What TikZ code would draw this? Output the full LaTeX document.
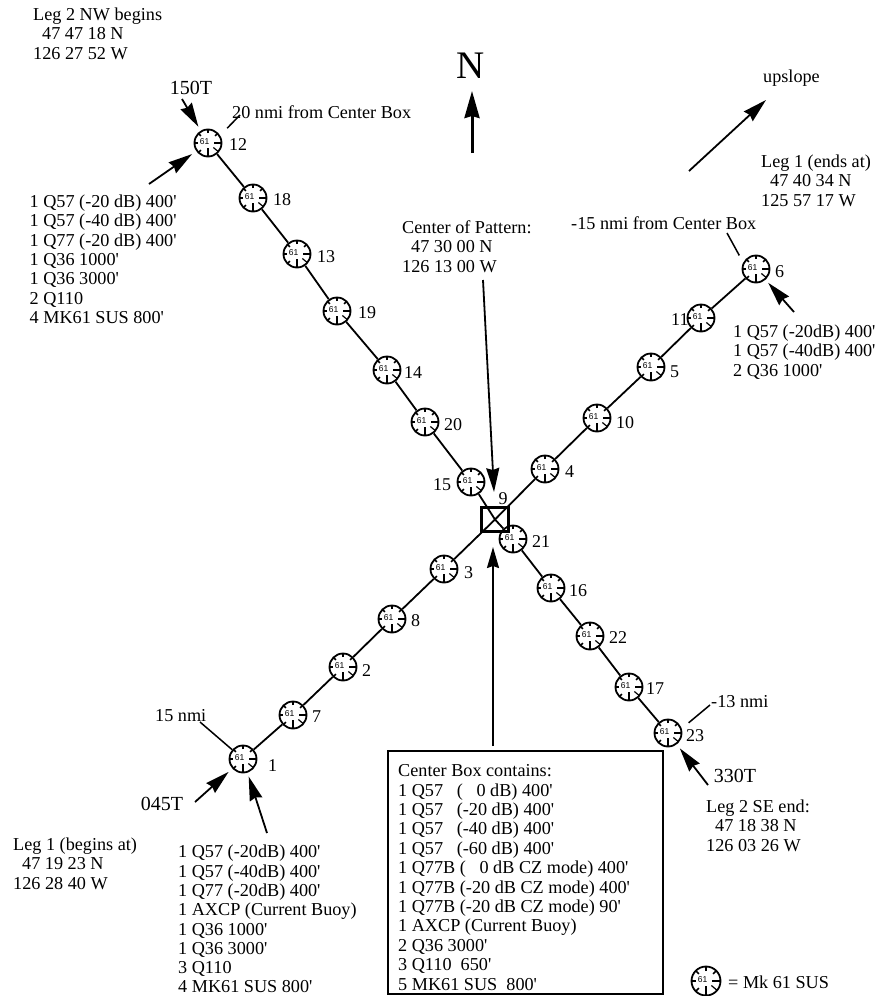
\documentclass[tikz,border=0pt]{standalone}
\usepackage{fontspec}
\setmainfont{Liberation Serif}[Ligatures=TeXOff]
\newfontfamily\buoyfont{Liberation Sans}
\usetikzlibrary{arrows.meta}
\newcommand{\buoytext}{\makebox[0pt]{\hspace{-7pt}\raisebox{2.5pt}{61}}}
\tikzset{
  x=1pt,y=-1pt,
  buoy/.style={circle,draw,fill=white,line width=1.8pt,minimum size=27pt,inner sep=0pt,
    font=\buoyfont\fontsize{8.5}{8.5}\selectfont,
    path picture={
      \foreach \a in {135,180,225,270,315}{
        \draw[line width=1.5pt] (path picture bounding box.center) ++(\a:10) -- ++(\a:5);
      }
      \draw[line width=1.5pt] (path picture bounding box.center) ++(90:5) -- ++(90:10);
      \draw[line width=1.5pt] (path picture bounding box.center) ++(0:6) -- ++(0:9);
      \draw[line width=1.2pt] (path picture bounding box.center) ++(40:7) -- ++(40:8);
    }},
  num/.style={anchor=west,inner sep=0pt,font=\fontsize{18}{20}\selectfont},
  txt/.style={anchor=north west,inner sep=0pt,align=left,font=\fontsize{18.2}{19.4}\selectfont},
  big/.style={anchor=center,inner sep=0pt,font=\fontsize{20}{22}\selectfont},
  leg/.style={line width=1.8pt},
  thin line/.style={line width=1.5pt},
  arrow/.style={line width=1.8pt,-{Stealth[length=24pt,width=13pt,inset=2pt]}},
}
\begin{document}
\begin{tikzpicture}
\useasboundingbox (0,0) rectangle (878,996);

% buoys
\foreach \i/\bx/\by/\lx/\ly in {
  12/208/143/229/145, 18/253/198/273/200, 13/297/254/317/257, 19/337/311/358/313,
  14/387/370/404/373, 20/425/422/444/425, 15/471/482/433/485, 21/513/539/532/542,
  16/551/588/569/591, 22/590/636/609/638, 17/629/687/646/689, 23/668/733/686/736,
  1/243/759/268/766, 7/293/715/312/717, 2/343/667/362/671, 8/392/619/411/621,
  3/444/569/464/573, 4/545/469/565/472, 10/597/418/616/423, 5/651/367/670/372,
  11/701/318/671/320, 6/756/269/775/272}{
  \node[buoy] (b\i) at (\bx,\by) {\buoytext};
  \node[num] (n\i) at (\lx,\ly) {\i};
}

% centre box
\node[draw,line width=2.4pt,minimum width=27pt,minimum height=24pt,inner sep=0pt] (box9) at (495,519.5) {};
\node[num,anchor=center] (n9) at (503,499) {9};

% legs
\draw[leg] (b1)--(b7);
\draw[leg] (b7)--(b2);
\draw[leg] (b2)--(b8);
\draw[leg] (b8)--(b3);
\draw[leg] (b3)--(box9.center);
\draw[leg] (box9.center)--(b4);
\draw[leg] (b4)--(b10);
\draw[leg] (b10)--(b5);
\draw[leg] (b5)--(b11);
\draw[leg] (b11)--(b6);
\draw[leg] (b12)--(b18);
\draw[leg] (b18)--(b13);
\draw[leg] (b13)--(b19);
\draw[leg] (b19)--(b14);
\draw[leg] (b14)--(b20);
\draw[leg] (b20)--(b15);
\draw[leg] (b15)--(box9.center);
\draw[leg] (box9.center)--(b21);
\draw[leg] (b21)--(b16);
\draw[leg] (b16)--(b22);
\draw[leg] (b22)--(b17);
\draw[leg] (b17)--(b23);

% big labels
\node[inner sep=0pt,font=\fontsize{39}{41}\selectfont] (north) at (470.5,66) {N};
\node[big] (t150) at (191,88) {150T};
\node[big] (t045) at (162,804) {045T};
\node[big] (t330) at (735,776) {330T};

% text blocks
\node[txt] (legtwonw) at (33,7.5) {Leg 2 NW begins\\\hspace*{9pt}47 47 18 N\\126 27 52 W};
\node[txt] (twenty) at (232,105.5) {20 nmi from Center Box};
\node[txt] (uplabel) at (763,69.5) {upslope};
\node[txt] (legoneend) at (761,154.5) {Leg 1 (ends at)\\\hspace*{9pt}47 40 34 N\\125 57 17 W};
\node[txt] (fifteen) at (571,216.5) {-15 nmi from Center Box};
\node[txt] (cop) at (402,220.5) {Center of Pattern:\\\hspace*{9pt}47 30 00 N\\126 13 00 W};
\node[txt] (listnw) at (29.5,194.5) {1 Q57 (-20 dB) 400'\\1 Q57 (-40 dB) 400'\\1 Q77 (-20 dB) 400'\\1 Q36 1000'\\1 Q36 3000'\\2 Q110\\4 MK61 SUS 800'};
\node[txt] (listne) at (733,324.5) {1 Q57 (-20dB) 400'\\1 Q57 (-40dB) 400'\\2 Q36 1000'};
\node[txt] (legonebeg) at (13,837.5) {Leg 1 (begins at)\\\hspace*{9pt}47 19 23 N\\126 28 40 W};
\node[txt,font=\fontsize{18.2}{19.3}\selectfont] (listsw) at (178,845) {1 Q57 (-20dB) 400'\\1 Q57 (-40dB) 400'\\1 Q77 (-20dB) 400'\\1 AXCP (Current Buoy)\\1 Q36 1000'\\1 Q36 3000'\\3 Q110\\4 MK61 SUS 800'};
\node[txt] (legtwose) at (706,799.5) {Leg 2 SE end:\\\hspace*{9pt}47 18 38 N\\126 03 26 W};
\node[txt] (thirteen) at (711,695.5) {-13 nmi};
\node[draw,line width=1.8pt,minimum width=275pt,minimum height=243pt,inner sep=0pt] (cbox) at (525.5,872.5) {};
\node[txt] (cbtext) at (398,764.5) {Center Box contains:\\1 Q57 \ \ (\ \ \ 0 dB) 400'\\1 Q57 \ \ (-20 dB) 400'\\1 Q57 \ \ (-40 dB) 400'\\1 Q57 \ \ (-60 dB) 400'\\1 Q77B (\ \ \ 0 dB CZ mode) 400'\\1 Q77B (-20 dB CZ mode) 400'\\1 Q77B (-20 dB CZ mode) 90'\\1 AXCP (Current Buoy)\\2 Q36 3000'\\3 Q110 \ 650'\\5 MK61 SUS \ 800'};
\node[buoy,minimum size=29pt] (legendb) at (706,981) {\buoytext};
\node[txt,anchor=west] (legendt) at (728,982) {= Mk 61 SUS};
\node[txt,anchor=west] (nmi15) at (155,716) {15 nmi};

% free ends
\coordinate (a150) at (182,99);
\coordinate (anw) at (149,184);
\coordinate (an) at (472,153);
\coordinate (anh) at (472,91);
\coordinate (aup) at (689,171);
\coordinate (auph) at (766,100);
\coordinate (acop) at (483,280);
\coordinate (acoph) at (494,492);
\coordinate (acb) at (493,746);
\coordinate (acbh) at (493,547);
\coordinate (a6) at (794,312);
\coordinate (a23) at (708,785);
\coordinate (a45) at (195,802);
\coordinate (a1) at (267,833);
\coordinate (l15) at (200,722);
\coordinate (l13) at (710,705);
\coordinate (l20) at (240,115);
\coordinate (lm15) at (727,233);

\draw[arrow,shorten >=4.5pt] (a150)--(b12);
\draw[arrow,shorten >=5pt] (anw)--(b12);
\draw[line width=3pt,-{Stealth[length=27pt,width=15pt,inset=2pt]}] (an)--(anh);
\draw[arrow] (aup)--(auph);
\draw[arrow] (acop)--(acoph);
\draw[arrow,-{Stealth[length=21pt,width=12pt,inset=2pt]}] (acb)--(acbh);
\draw[arrow,shorten >=4pt] (a6)--(b6);
\draw[arrow,shorten >=5pt] (a23)--(b23);
\draw[arrow,shorten >=5pt] (a45)--(b1);
\draw[arrow,shorten >=4pt] (a1)--(b1);
\draw[thin line] (l15)--(b1);
\draw[thin line,shorten >=9pt] (l13)--(b23.18);
\draw[thin line,shorten >=10pt] (l20)--(b12.32);
\draw[thin line,shorten >=8pt] (lm15)--(b6.153);
\end{tikzpicture}
\end{document}
